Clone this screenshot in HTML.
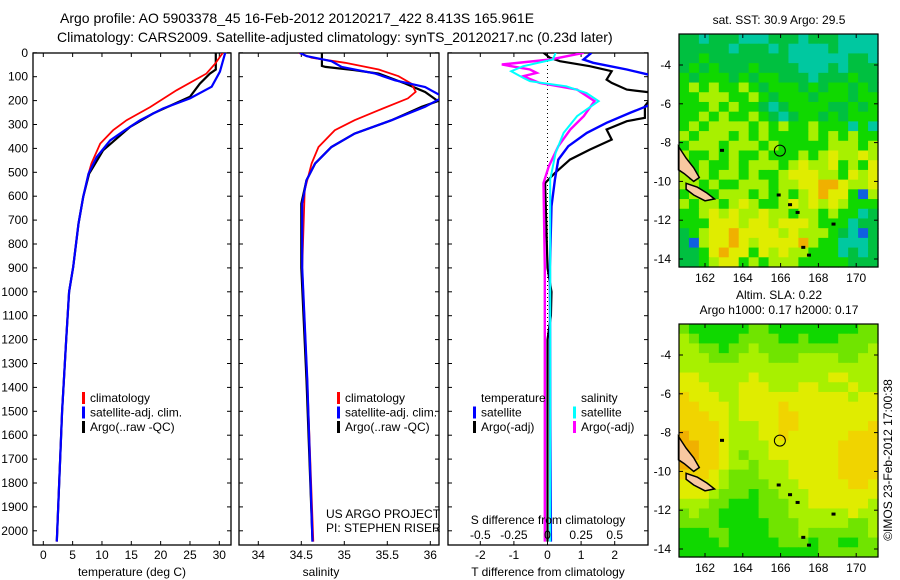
<!DOCTYPE html>
<html><head><meta charset="utf-8"><style>
body{margin:0;background:#fff}
svg{display:block;font-family:"Liberation Sans",sans-serif}
text{fill:#000}
</style></head><body>
<svg id="fig" width="900" height="580" viewBox="0 0 900 580">
<text x="60" y="23" font-size="14">Argo profile: AO 5903378_45 16-Feb-2012 20120217_422 8.413S 165.961E</text>
<text x="57" y="42" font-size="14">Climatology: CARS2009. Satellite-adjusted climatology: synTS_20120217.nc (0.23d later)</text>
<g id="g1"></g>
<g id="g2"></g>
<g id="g3"></g>
<g id="m1"></g>
<g id="m2"></g>
<text transform="translate(892,460) rotate(-90)" font-size="12" text-anchor="middle">©IMOS 23-Feb-2012 17:00:38</text>
</svg>
<script>
// ---- data ----
const depthTicks=[0,100,200,300,400,500,600,700,800,900,1000,1100,1200,1300,1400,1500,1600,1700,1800,1900,2000];
const tTicks=[0,5,10,15,20,25,30];
const sTicks=[34,34.5,35,35.5,36];
const dTTicks=[-2,-1,0,1,2];
const dSTicks=[-0.5,-0.25,0,0.25,0.5];
const dSTickLabels=["-0.5","-0.25","0","0.25","0.5"];
const tClimDepth=[0,45,87,157,227,282,324,380,463,506,603,715,896,1000,1200,1500,2045];
const tClimVal=[30.6,29.3,27.8,22.7,18.2,14.2,11.9,9.7,8.2,7.7,6.8,6.0,5.1,4.4,3.9,3.2,2.3];
const tSatDepth=[0,79,142,191,233,282,324,366,436,506,603,715,896,1000,1200,1500,2045];
const tSatVal=[31.0,30.1,28.7,25.0,20.4,16.5,13.9,11.4,9.1,7.7,6.8,6.0,5.1,4.4,3.9,3.2,2.3];
const tArgoDepth=[0,70,87,129,184,254,310,408,478,506,603,715,896,1000,1200,1500,2045];
const tArgoVal=[29.4,29.4,28.4,26.7,25.0,18.7,14.8,10.2,8.5,7.8,6.8,6.0,5.1,4.4,3.9,3.2,2.3];
const sClimDepth=[0,21,42,70,98,129,163,191,240,282,324,394,463,575,900,1370,2045];
const sClimVal=[34.47,34.62,35.01,35.40,35.63,35.78,35.83,35.74,35.40,35.12,34.89,34.70,34.62,34.54,34.51,34.57,34.64];
const sSatDepth=[0,14,35,59,87,115,143,185,226,282,338,394,463,533,631,900,1370,2045];
const sSatVal=[34.48,34.56,34.85,34.97,35.36,35.59,35.94,36.15,35.94,35.55,35.12,34.85,34.66,34.56,34.51,34.51,34.57,34.63];
const sArgoDepth=[0,55,59,73,87,129,164,202,226,282,338,394,463,533,631,900,1370,2045];
const sArgoVal=[34.74,34.74,34.78,35.12,35.40,35.71,35.94,36.09,35.90,35.55,35.12,34.85,34.66,34.56,34.50,34.50,34.56,34.63];
const dTSatDepth=[0,28,42,70,98,209,251,293,335,391,447,531,642,896,1500,2045];
const dTSatVal=[1.31,1.07,1.36,2.36,3.2,3.2,2.46,1.76,1.17,0.62,0.32,0.22,0.12,0.07,0.08,0.1];
const dTArgoDepth=[0,21,35,56,77,112,126,154,168,223,272,286,321,363,405,447,503,545,642,900,1000,1100,1200,2045];
const dTArgoVal=[-0.12,0.07,0.37,1.26,1.91,1.76,1.91,2.36,3.2,2.9,2.9,2.36,1.76,1.91,1.26,0.67,0.22,-0.07,-0.05,0.0,0.12,0.1,0.0,0.0];
const dSSatDepth=[0,28,56,77,105,119,140,168,202,265,335,419,531,900,2045];
const dSSatVal=[0.06,0.04,-0.18,-0.27,-0.18,-0.13,0.14,0.29,0.38,0.22,0.12,0.06,0.02,0.02,0.02];
const dSArgoDepth=[0,28,49,70,84,98,126,154,202,265,321,391,475,545,900,2045];
const dSArgoVal=[0.27,0.02,-0.34,-0.13,-0.08,-0.18,-0.06,0.22,0.35,0.27,0.17,0.08,0.01,-0.03,-0.02,-0.02];
const sstGrid=["ggtgggtttgggtgggtttt","gggggtgggtgttttgtttt","ggGggggggggttttttggt","gGgGgggGggggtttgtggg","GgGGGgGgGGgggtgggGgg","GlGlGGlGgGGGgGgGGgGg","GGlllGGlGgGGGgGGGgGG","GGGlGlGGgtgGGGGggGgG","GGlGlGGlGgtgGGgGgGGG","GlGllllGlGlGGlGGGtGt","lGlllGlGlGGGGlGlGlGG","GlllGlllGlGGGGGlllGl","lGGlGlGGlGGGlGlyllyl","GGlGGlGlllGlyllyGlGy","lGlGllGlGGlyyyllGyly","llGlGGlllGllyyooylly","GlGGlllGlGlGlyoyyGbl","lGllGlylGGlylylylGGG","GGlylyllyllGllGlGGtg","GGGyyylyylyyylGGGtgg","gGlyyoyyyylylllGgtbg","gblyyoylyyyyolGGtttg","ggGyoyyGylyllGGGtgtg","ggGlyyGlGlllGGGGGggg"];
const slaGrid=["hGGGGGGhhGGGGGGGGGhh","lhGGGGhhhhGGhGGGhhhh","llhhGhhlhhhhhhhhhhhl","lllhhhlllhhhllllhhll","llllllllllllllllllll","yylllllylllllllyylll","yyylllyyylllyylllyll","Yyyyllyyyyyyyyyyylyy","YYyyylyyyyYyyyyyyyyy","YYYyylyyyyYYyyyyyyyy","YYYYylllyyYYyyyyyyyY","oYYYylllyyYyyyyyyYYY","ooYYyllllyyyyyyyYYYY","ooYYylhllyyyyyyyYYYY","oYYYyllhlllyyyyyYYYY","YYYylhhhlllyyyyyYYYY","yyyylhhhhlllyyyyyYYy","yyylhhhGhhlllyyyyyyy","lllhhGGGhhhllyyyyyyl","hlhhGGGGhhhllllllyll","hhhhGGGGGhhhlllllhhl","GGGhhGGGGhhhlhhhhhhl","GGGGhGGGGGhhhGhhGGhh","GGGGGGGGGGGGGGhhhhhh"];
const lonTicks=[162,164,166,168,170];
const latTicks=[-4,-6,-8,-10,-12,-14];
const argoLon=165.961, argoLat=-8.413;
const island1=[[160.6,-8.2],[161.0,-8.8],[161.4,-9.3],[161.7,-9.8],[161.4,-10.0],[160.9,-9.6],[160.6,-9.4]];
const island2=[[161.0,-10.1],[161.6,-10.3],[162.1,-10.6],[162.5,-10.9],[162.0,-11.0],[161.4,-10.7],[161.0,-10.4]];
const smallIslands=[[165.9,-10.7],[166.5,-11.2],[166.9,-11.6],[167.5,-13.8],[167.2,-13.4],[168.8,-12.2],[162.9,-8.4]];

const NS="http://www.w3.org/2000/svg";
function mk(parent,tag,attrs){const e=document.createElementNS(NS,tag);for(const k in attrs)e.setAttribute(k,attrs[k]);parent.appendChild(e);return e;}
function txt(parent,x,y,s,anchor,size){const t=mk(parent,"text",{x:x,y:y,"font-size":size||12,"text-anchor":anchor||"start"});t.textContent=s;return t;}
const TOP=53,BOT=545;
const yD=d=>52.8+d*0.239;

function panel(g,x0,x1,name){
  const r=mk(g,"rect",{x:x0,y:TOP,width:x1-x0,height:BOT-TOP,fill:"none",stroke:"#000","stroke-width":1.3});
  
  
  depthTicks.forEach(d=>{const y=yD(d);
    mk(g,"line",{x1:x0,x2:x0+4,y1:y,y2:y,stroke:"#000"});
    mk(g,"line",{x1:x1-4,x2:x1,y1:y,y2:y,stroke:"#000"});});
}
function curve(g,xf,depths,vals,color,w,name,clip){
  let p="";for(let i=0;i<depths.length;i++){p+=(i?"L":"M")+xf(vals[i]).toFixed(1)+","+yD(depths[i]).toFixed(1);}
  const e=mk(g,"path",{d:p,fill:"none",stroke:color,"stroke-width":w,"clip-path":"url(#"+clip+")"});
  
  
}
const svg=document.getElementById("fig");
const defs=mk(svg,"defs",{});
function clipRect(id,x,y,w,h){const c=mk(defs,"clipPath",{id:id});mk(c,"rect",{x:x,y:y,width:w,height:h});}
clipRect("c1",33,TOP,198,BOT-TOP);clipRect("c2",239,TOP,200,BOT-TOP);clipRect("c3",448,TOP,200,BOT-TOP);

const g1=document.getElementById("g1");
const xT=v=>43.3+v*5.867;
panel(g1,33,231,"temperature");
depthTicks.forEach(d=>{const t=txt(g1,28,yD(d)+4,String(d),"end");
  
  });
tTicks.forEach(v=>{mk(g1,"line",{x1:xT(v),x2:xT(v),y1:TOP,y2:TOP+4,stroke:"#000"});mk(g1,"line",{x1:xT(v),x2:xT(v),y1:BOT-4,y2:BOT,stroke:"#000"});
  const t=txt(g1,xT(v),559,String(v),"middle");
  
  });
txt(g1,132,576,"temperature (deg C)","middle");
curve(g1,xT,tArgoDepth,tArgoVal,"#000",2.2,"temperature-argo-line","c1");
curve(g1,xT,tClimDepth,tClimVal,"#f00",1.8,"temperature-climatology-line","c1");
curve(g1,xT,tSatDepth,tSatVal,"#00f",2.2,"temperature-satellite-line","c1");

function legend(g,mx,tx,y0,items,name){
  items.forEach((it,i)=>{const y=y0+i*14.5;
    const m=mk(g,"rect",{x:mx,y:y-10,width:3,height:12,fill:it[1]});
    
    
    const t=txt(g,tx,y,it[0],"start",12);
    
    });
}
legend(g1,82,90,402,[["climatology","#f00"],["satellite-adj. clim.","#00f"],["Argo(..raw -QC)","#000"]],"temperature-legend");

const g2=document.getElementById("g2");
const xS=v=>258.3+(v-34)*86;
panel(g2,239,439,"salinity");
sTicks.forEach(v=>{mk(g2,"line",{x1:xS(v),x2:xS(v),y1:TOP,y2:TOP+4,stroke:"#000"});mk(g2,"line",{x1:xS(v),x2:xS(v),y1:BOT-4,y2:BOT,stroke:"#000"});
  const t=txt(g2,xS(v),559,String(v),"middle");
  
  });
txt(g2,321,576,"salinity","middle");
curve(g2,xS,sArgoDepth,sArgoVal,"#000",2.2,"salinity-argo-line","c2");
curve(g2,xS,sClimDepth,sClimVal,"#f00",1.8,"salinity-climatology-line","c2");
curve(g2,xS,sSatDepth,sSatVal,"#00f",2.2,"salinity-satellite-line","c2");
legend(g2,337,345,402,[["climatology","#f00"],["satellite-adj. clim.","#00f"],["Argo(..raw -QC)","#000"]],"salinity-legend");
txt(g2,326,518,"US ARGO PROJECT");txt(g2,326,532,"PI: STEPHEN RISER");

const g3=document.getElementById("g3");
const xDT=v=>547.5+v*33.6;
const xDS=v=>547.5+v*134.4;
panel(g3,448,648,"difference");
mk(g3,"line",{x1:xDT(0),x2:xDT(0),y1:TOP,y2:BOT,stroke:"#000","stroke-dasharray":"1,3"});
dTTicks.forEach(v=>{mk(g3,"line",{x1:xDT(v),x2:xDT(v),y1:TOP,y2:TOP+4,stroke:"#000"});mk(g3,"line",{x1:xDT(v),x2:xDT(v),y1:BOT-4,y2:BOT,stroke:"#000"});
  const t=txt(g3,xDT(v),559,String(v),"middle");
  
  });
txt(g3,548,576,"T difference from climatology","middle");
curve(g3,xDT,dTArgoDepth,dTArgoVal,"#000",2.2,"t-diff-argo-line","c3");
curve(g3,xDT,dTSatDepth,dTSatVal,"#00f",2.4,"t-diff-satellite-line","c3");
curve(g3,xDS,dSArgoDepth,dSArgoVal,"#f0f",2.4,"s-diff-argo-line","c3");
curve(g3,xDS,dSSatDepth,dSSatVal,"#0ff",2.0,"s-diff-satellite-line","c3");
txt(g3,481,402,"temperature");txt(g3,581,402,"salinity");
legend(g3,473,481,416.5,[["satellite","#00f"],["Argo(-adj)","#000"]],"t-diff-legend");
legend(g3,573,581,416.5,[["satellite","#0ff"],["Argo(-adj)","#f0f"]],"s-diff-legend");
txt(g3,548,524,"S difference from climatology","middle");
dSTicks.forEach((v,i)=>{const t=txt(g3,xDS(v),539,dSTickLabels[i],"middle");
  
  });

const colors={t:"#00c8a0",g:"#00c040",G:"#10d800",l:"#a8f000",y:"#e0ec00",o:"#f0b000",b:"#1060e0",h:"#70e400",Y:"#f0d400"};
function drawMap(g,y0,grid,title,name){
  const x0=679,x1=878,y1=y0+233;
  const lx=v=>705+(v-162)*18.9, ly=v=>(y0+31)+(-4-v)*19.4;
  const rows=grid.length, cols=20, cw=(x1-x0)/cols, ch=(y1-y0)/rows;
  grid.forEach((row,r)=>{for(let c=0;c<cols;c++){const k=row[c]||row[row.length-1];
    const cell=mk(g,"rect",{x:(x0+c*cw).toFixed(2),y:(y0+r*ch).toFixed(2),width:(cw+0.6).toFixed(2),height:(ch+0.6).toFixed(2),fill:colors[k]});
    
    }});
  [island1,island2].forEach(isl=>{
    const p=mk(g,"polygon",{points:isl.map(q=>lx(q[0]).toFixed(1)+","+ly(q[1]).toFixed(1)).join(" "),fill:"#f8c8a0",stroke:"#000","stroke-width":1.5});
    
    });
  smallIslands.forEach(q=>{const p=mk(g,"rect",{x:lx(q[0])-2,y:ly(q[1])-1.5,width:4,height:3,fill:"#000"});
    
    });
  const c=mk(g,"circle",{cx:lx(argoLon),cy:ly(argoLat),r:5.5,fill:"none",stroke:"#000","stroke-width":1});
  
  
  mk(g,"rect",{x:x0,y:y0,width:x1-x0,height:y1-y0,fill:"none",stroke:"#000","stroke-width":1.2});
  lonTicks.forEach(v=>{mk(g,"line",{x1:lx(v),x2:lx(v),y1:y0,y2:y0+4,stroke:"#000"});mk(g,"line",{x1:lx(v),x2:lx(v),y1:y1-4,y2:y1,stroke:"#000"});
    const t=txt(g,lx(v),y1+15,String(v),"middle");
    
    });
  latTicks.forEach(v=>{mk(g,"line",{x1:x0,x2:x0+4,y1:ly(v),y2:ly(v),stroke:"#000"});mk(g,"line",{x1:x1-4,x2:x1,y1:ly(v),y2:ly(v),stroke:"#000"});
    const t=txt(g,671,ly(v)+4,String(v),"end");
    
    });
  title.forEach((s,i)=>{const t=txt(g,779,y0-(title.length-1-i)*15-10,s,"middle");
    
    });
}
drawMap(document.getElementById("m1"),34,sstGrid,["sat. SST: 30.9 Argo: 29.5"],"sst-map");
drawMap(document.getElementById("m2"),324,slaGrid,["Altim. SLA: 0.22","Argo h1000: 0.17 h2000: 0.17"],"sla-map");
</script>
</body></html>
